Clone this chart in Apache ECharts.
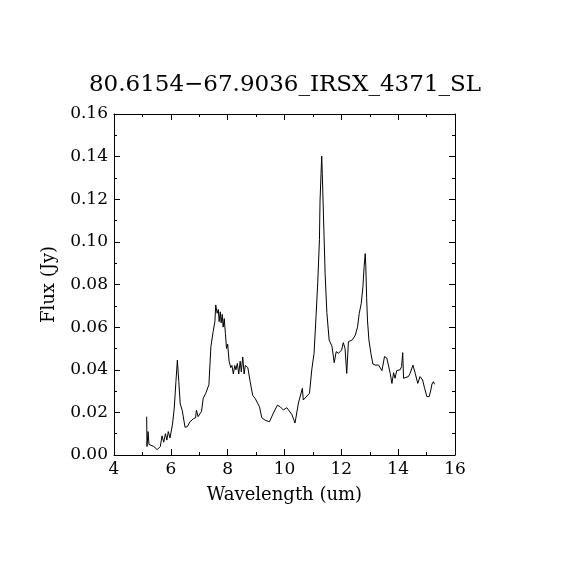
<!DOCTYPE html>
<html><head><meta charset="utf-8">
<script src="https://cdn.jsdelivr.net/npm/echarts@6/dist/echarts.min.js"></script>
<style>html,body{margin:0;padding:0;background:#fff}#c{width:570px;height:570px}</style>
</head><body><div id="c"></div>
<script>
const titleText = "80.6154\u221267.9036_IRSX_4371_SL";
const xLabel = "Wavelength (um)";
const yLabel = "Flux (Jy)";
const wavelength = [5.15,5.16,5.2,5.23,5.4,5.52,5.63,5.69,5.75,5.81,5.86,5.91,5.97,6.06,6.12,6.18,6.23,6.28,6.33,6.4,6.5,6.58,6.67,6.79,6.87,6.9,6.96,7.08,7.14,7.23,7.34,7.41,7.49,7.55,7.58,7.63,7.67,7.7,7.74,7.77,7.81,7.84,7.88,7.92,7.96,8.0,8.05,8.11,8.15,8.2,8.25,8.29,8.34,8.39,8.44,8.48,8.53,8.58,8.62,8.71,8.79,8.88,8.97,9.03,9.12,9.2,9.32,9.47,9.61,9.75,9.85,9.96,10.08,10.26,10.37,10.49,10.63,10.66,10.72,10.88,10.96,11.04,11.11,11.17,11.23,11.25,11.29,11.31,11.33,11.37,11.43,11.49,11.57,11.67,11.75,11.82,11.9,12.01,12.07,12.13,12.19,12.25,12.31,12.39,12.49,12.57,12.63,12.7,12.76,12.8,12.84,12.86,12.89,12.92,12.97,13.04,13.11,13.19,13.31,13.37,13.43,13.52,13.6,13.66,13.72,13.78,13.84,13.89,13.95,14.07,14.12,14.16,14.19,14.36,14.42,14.52,14.6,14.69,14.77,14.86,14.93,15.01,15.09,15.15,15.19,15.24,15.28];
const flux = [0.018,0.004,0.011,0.005,0.004,0.0025,0.004,0.009,0.006,0.010,0.007,0.011,0.008,0.0145,0.022,0.0345,0.0445,0.0345,0.024,0.021,0.013,0.0133,0.0155,0.017,0.0175,0.021,0.018,0.0205,0.0266,0.029,0.033,0.0508,0.058,0.0625,0.0704,0.0665,0.0683,0.0626,0.0672,0.062,0.066,0.060,0.064,0.057,0.050,0.052,0.044,0.041,0.042,0.038,0.042,0.040,0.043,0.038,0.044,0.039,0.046,0.038,0.042,0.041,0.0345,0.028,0.0265,0.0273,0.0226,0.0175,0.0163,0.0156,0.0197,0.0234,0.0226,0.0211,0.0222,0.019,0.015,0.0244,0.0313,0.0258,0.0258,0.029,0.040,0.0477,0.065,0.081,0.101,0.119,0.1337,0.1402,0.132,0.113,0.085,0.067,0.054,0.051,0.0433,0.0485,0.0477,0.0493,0.0527,0.050,0.0383,0.0532,0.054,0.054,0.0562,0.060,0.0664,0.0711,0.079,0.088,0.0945,0.089,0.074,0.0633,0.054,0.0477,0.0427,0.0422,0.0422,0.0415,0.0396,0.0462,0.0455,0.0462,0.0383,0.0336,0.0386,0.036,0.0396,0.040,0.0415,0.048,0.036,0.0368,0.0383,0.0422,0.0383,0.0336,0.0368,0.0352,0.0313,0.0274,0.0274,0.0305,0.0333,0.0344,0.0332];
const xTicks = [4,6,8,10,12,14,16];
const yTicks = [0,0.02,0.04,0.06,0.08,0.10,0.12,0.14,0.16];

const font = "DejaVu Serif";
const axisCommon = {
  axisLine:{show:true,onZero:false,lineStyle:{color:'#000',width:1}},
  axisTick:{show:true,inside:true,length:6,lineStyle:{color:'#000'}},
  minorTick:{show:true,splitNumber:2,length:3,lineStyle:{color:'#000'}},
  splitLine:{show:false},
};
const chart = echarts.init(document.getElementById('c'));
chart.setOption({
  backgroundColor:'#fff',
  animation:false,
  title:{text:titleText,left:'center',top:69,textStyle:{fontFamily:font,fontWeight:'normal',fontSize:23,color:'#000'}},
  grid:{left:114,right:115,top:114,bottom:115,containLabel:false},
  xAxis:[
    Object.assign({type:'value',min:xTicks[0],max:xTicks[xTicks.length-1],interval:2,position:'bottom',
      name:xLabel,nameLocation:'middle',nameGap:31,nameTextStyle:{fontFamily:font,fontSize:18,color:'#000'},
      axisLabel:{fontFamily:font,fontSize:17,color:'#000',margin:6}},axisCommon),
    Object.assign({type:'value',min:xTicks[0],max:xTicks[xTicks.length-1],interval:2,position:'top',axisLabel:{show:false}},axisCommon)
  ],
  yAxis:[
    Object.assign({type:'value',min:yTicks[0],max:yTicks[yTicks.length-1],interval:0.02,position:'left',
      name:yLabel,nameLocation:'middle',nameGap:56,nameRotate:90,nameTextStyle:{fontFamily:font,fontSize:18,color:'#000'},
      axisLabel:{fontFamily:font,fontSize:17,color:'#000',margin:6,formatter:v=>v.toFixed(2)}},axisCommon),
    Object.assign({type:'value',min:yTicks[0],max:yTicks[yTicks.length-1],interval:0.02,position:'right',axisLabel:{show:false}},axisCommon)
  ],
  series:[{type:'line',data:wavelength.map((w,i)=>[w,flux[i]]),showSymbol:false,symbol:'none',
    lineStyle:{color:'#000',width:1},xAxisIndex:0,yAxisIndex:0}]
});
</script></body></html>
